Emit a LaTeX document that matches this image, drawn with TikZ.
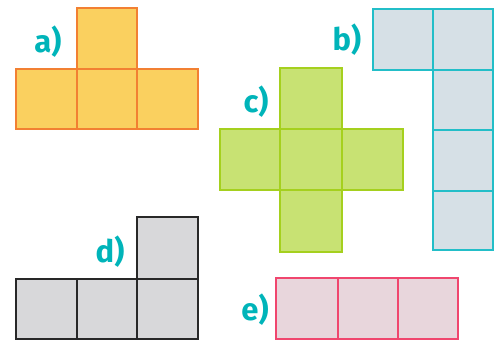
\documentclass[tikz,border=0pt]{standalone}
\usepackage{fontspec}
\setsansfont{Fira Sans}
\definecolor{lab}{RGB}{0,180,185}
\definecolor{oraD}{RGB}{242,128,50}
\definecolor{oraF}{RGB}{250,208,95}
\definecolor{cyaD}{RGB}{35,190,200}
\definecolor{cyaF}{RGB}{214,224,230}
\definecolor{greD}{RGB}{165,208,30}
\definecolor{greF}{RGB}{200,226,115}
\definecolor{gryD}{RGB}{40,40,40}
\definecolor{gryF}{RGB}{216,216,218}
\definecolor{pnkD}{RGB}{240,70,110}
\definecolor{pnkF}{RGB}{232,214,220}
\tikzset{
  sqa/.style={draw=oraD,fill=oraF,line width=2.6pt},
  sqb/.style={draw=cyaD,fill=cyaF,line width=2.6pt},
  sqc/.style={draw=greD,fill=greF,line width=2.6pt},
  sqd/.style={draw=gryD,fill=gryF,line width=2.6pt},
  sqe/.style={draw=pnkD,fill=pnkF,line width=2.6pt},
  lbl/.style={text=lab,font=\sffamily\bfseries\fontsize{31}{31}\selectfont,inner sep=0pt}
}
\begin{document}
\begin{tikzpicture}[x=1pt,y=-1pt]
\useasboundingbox (0,0) rectangle (502,343);
% a
\draw[sqa] (77,8) rectangle (137,69);
\draw[sqa] (16,69) rectangle (77,129);
\draw[sqa] (77,69) rectangle (137,129);
\draw[sqa] (137,69) rectangle (198,129);
\node[lbl] (la) at (48,42) {a)};
% b
\draw[sqb] (373,9) rectangle (433,70);
\draw[sqb] (433,9) rectangle (493,70);
\draw[sqb] (433,70) rectangle (493,130);
\draw[sqb] (433,130) rectangle (493,191);
\draw[sqb] (433,191) rectangle (493,250);
\node[lbl] (lb) at (347,40) {b)};
% c
\draw[sqc] (280,68) rectangle (342,129);
\draw[sqc] (220,129) rectangle (280,190);
\draw[sqc] (280,129) rectangle (342,190);
\draw[sqc] (342,129) rectangle (403,190);
\draw[sqc] (280,190) rectangle (342,252);
\node[lbl] (lc) at (256,102) {c)};
% d
\draw[sqd] (137,217) rectangle (198,279);
\draw[sqd] (16,279) rectangle (77,339);
\draw[sqd] (77,279) rectangle (137,339);
\draw[sqd] (137,279) rectangle (198,339);
\node[lbl] (ld) at (110,252) {d)};
% e
\draw[sqe] (276,278) rectangle (338,339);
\draw[sqe] (338,278) rectangle (398,339);
\draw[sqe] (398,278) rectangle (458,339);
\node[lbl] (le) at (255,310) {e)};
\end{tikzpicture}
\end{document}
